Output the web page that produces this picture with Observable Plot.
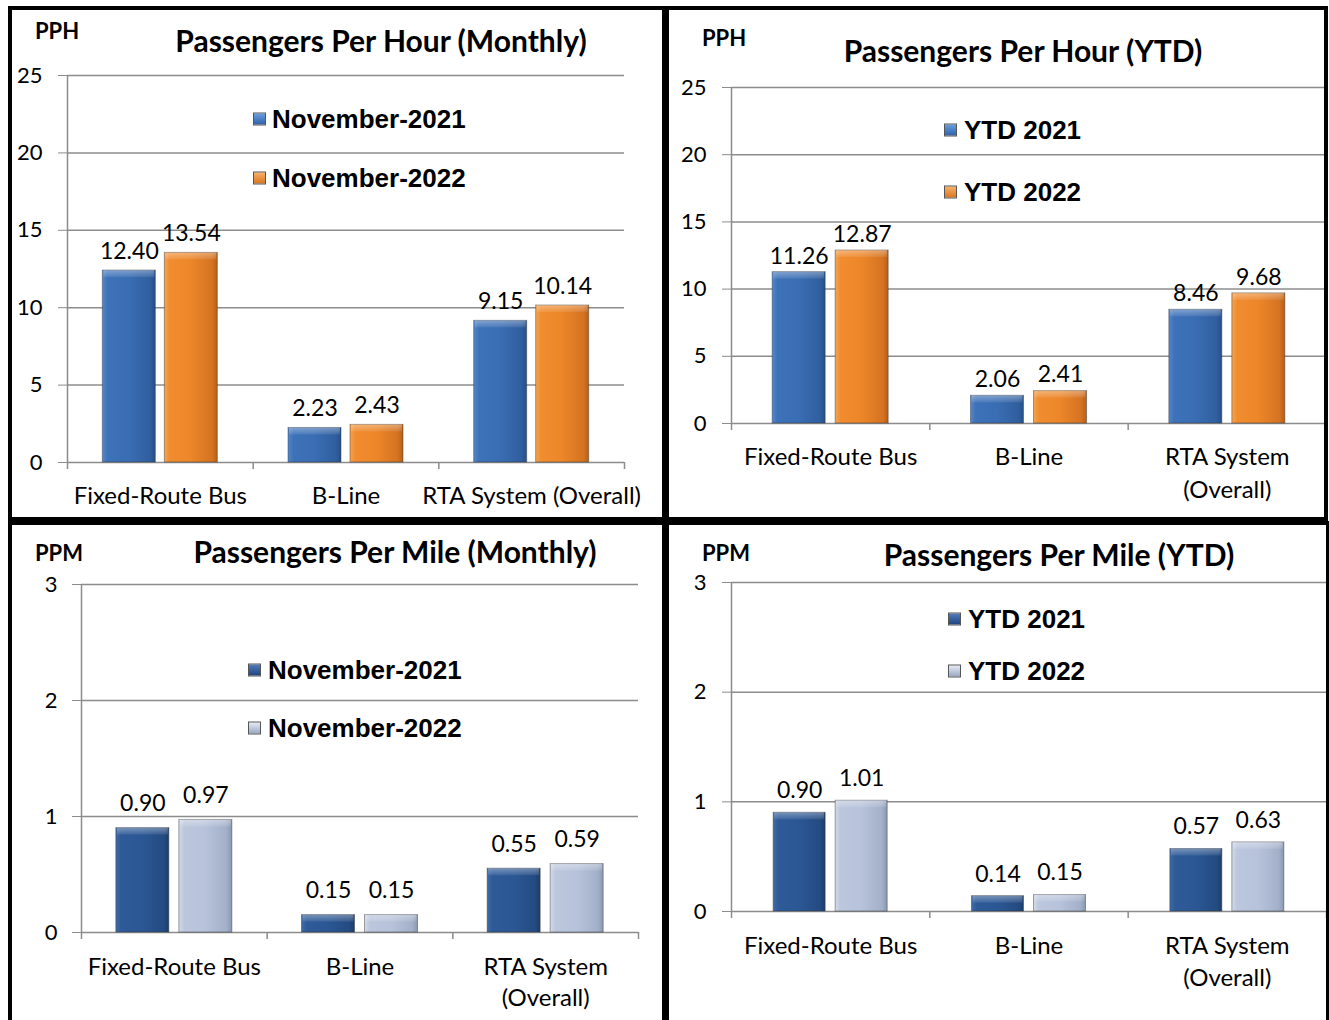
<!DOCTYPE html>
<html><head><meta charset="utf-8">
<script src="https://cdn.jsdelivr.net/npm/d3@7"></script>
<script src="https://cdn.jsdelivr.net/npm/@observablehq/plot@0.6"></script>
<style>
html,body{margin:0;padding:0;background:#fff;}
body{width:1329px;height:1020px;position:relative;overflow:hidden;font-family:Lato,sans-serif;}
.panel{position:absolute;border:4px solid #000;box-sizing:border-box;z-index:5;pointer-events:none;}
.chart{position:absolute;}
.chart svg{overflow:visible;max-width:none;}
.lbl{position:absolute;white-space:nowrap;line-height:1;transform:translateY(-50%);color:#000;}
.ctr{transform:translate(-50%,-50%);}
.unit{font-family:Lato;font-weight:700;font-size:22px;}
.title{font-family:Lato;font-weight:700;font-size:30px;}
.leg{font-family:"Liberation Sans",Arial,sans-serif;font-weight:700;font-size:26px;}
.sw{position:absolute;width:13px;height:13px;transform:translateY(-50%);box-sizing:border-box;border:1px solid #555;}
g[aria-label="y-axis tick"]{stroke:#8c8c8c;}
</style>
</head>
<body>
<svg width="0" height="0" style="position:absolute">
  <defs>
    <linearGradient id="gBlue" x1="0" x2="1" y1="0" y2="0">
      <stop offset="0" stop-color="#5487cc"/><stop offset="0.1" stop-color="#3d72b9"/>
      <stop offset="0.5" stop-color="#3a6db3"/><stop offset="0.9" stop-color="#305f9f"/>
      <stop offset="1" stop-color="#264f88"/>
    </linearGradient>
    <linearGradient id="gOrange" x1="0" x2="1" y1="0" y2="0">
      <stop offset="0" stop-color="#f6a450"/><stop offset="0.1" stop-color="#f08d30"/>
      <stop offset="0.5" stop-color="#ec8629"/><stop offset="0.9" stop-color="#d57322"/>
      <stop offset="1" stop-color="#b65f18"/>
    </linearGradient>
    <linearGradient id="gNavy" x1="0" x2="1" y1="0" y2="0">
      <stop offset="0" stop-color="#3f6aa6"/><stop offset="0.1" stop-color="#2e5a98"/>
      <stop offset="0.5" stop-color="#2b5794"/><stop offset="0.9" stop-color="#244b82"/>
      <stop offset="1" stop-color="#1c3d6c"/>
    </linearGradient>
    <linearGradient id="gLight" x1="0" x2="1" y1="0" y2="0">
      <stop offset="0" stop-color="#d3dbea"/><stop offset="0.1" stop-color="#bcc7dd"/>
      <stop offset="0.5" stop-color="#b7c3db"/><stop offset="0.9" stop-color="#a3b0c9"/>
      <stop offset="1" stop-color="#8a97b2"/>
    </linearGradient>
    <linearGradient id="gBevel" x1="0" x2="0" y1="0" y2="1">
      <stop offset="0" stop-color="#ffffff" stop-opacity="0.35"/>
      <stop offset="1" stop-color="#ffffff" stop-opacity="0.08"/>
    </linearGradient>
  </defs>
</svg>
<script>
// ---------- data ----------
const categories = ["Fixed-Route Bus", "B-Line", "RTA System (Overall)"];
const categoryLabelsOneLine = ["Fixed-Route Bus", "B-Line", "RTA System (Overall)"];
const categoryLabelsTwoLine = ["Fixed-Route Bus", "B-Line", "RTA System\n(Overall)"];

const monthlySeries = ["November-2021", "November-2022"];
const ytdSeries = ["YTD 2021", "YTD 2022"];

const pphMonthly2021 = [12.40, 2.23, 9.15];
const pphMonthly2022 = [13.54, 2.43, 10.14];
const pphYtd2021 = [11.26, 2.06, 8.46];
const pphYtd2022 = [12.87, 2.41, 9.68];
const ppmMonthly2021 = [0.90, 0.15, 0.55];
const ppmMonthly2022 = [0.97, 0.15, 0.59];
const ppmYtd2021 = [0.90, 0.14, 0.57];
const ppmYtd2022 = [1.01, 0.15, 0.63];

const pphTicks = [0, 5, 10, 15, 20, 25];
const ppmTicks = [0, 1, 2, 3];

const titles = ["Passengers Per Hour (Monthly)", "Passengers Per Hour (YTD)", "Passengers Per Mile (Monthly)", "Passengers Per Mile (YTD)"];
const units = ["PPH", "PPH", "PPM", "PPM"];

// ---------- helpers ----------
function addDiv(cls, text, x, y, extra) {
  const d = document.createElement("div");
  d.className = cls;
  d.textContent = text;
  d.style.left = x + "px";
  d.style.top = y + "px";
  if (extra) Object.assign(d.style, extra);
  document.body.appendChild(d);
  return d;
}
function panel(l, t, w, h) {
  const d = document.createElement("div");
  d.className = "panel";
  Object.assign(d.style, {left: l + "px", top: t + "px", width: w + "px", height: h + "px"});
  document.body.appendChild(d);
}
function swatch(x, y, grad) {
  const d = document.createElement("div");
  d.className = "sw";
  Object.assign(d.style, {left: x + "px", top: y + "px", background: grad});
  document.body.appendChild(d);
}

function chart(o) {
  const rows = categories.map((c, i) => ({cat: c, label: o.labels[i], v1: o.s1[i], v2: o.s2[i]}));
  const band = (o.width - o.mL - o.mR) / 3;
  const pad = (band - 2 * o.barW - o.gap) / 2;
  const in1 = {insetLeft: pad, insetRight: band - pad - o.barW};
  const in2 = {insetLeft: pad + o.barW + o.gap, insetRight: pad};
  const c1 = pad + o.barW / 2 - band / 2;
  const c2 = pad + o.barW + o.gap + o.barW / 2 - band / 2;
  const gridC = "#8c8c8c";
  const yMax = o.ticks[o.ticks.length - 1];
  const p = Plot.plot({
    width: o.width, height: o.height,
    marginLeft: o.mL, marginRight: o.mR, marginTop: o.mT, marginBottom: o.mB,
    style: {fontFamily: "Lato", fontSize: "22px", background: "transparent", overflow: "visible", color: "#000"},
    x: {domain: categories, padding: 0, round: false, axis: null},
    y: {domain: [0, yMax], ticks: o.ticks, tickSize: 9, tickPadding: o.tickPad, label: null, tickFormat: d => String(d)},
    marks: [
      Plot.ruleY(o.ticks, {y: d => d, stroke: gridC, strokeWidth: 1.5}),
      Plot.ruleX([categories[0]], {x: d => d, dx: -band / 2, y1: 0, y2: yMax, stroke: gridC, strokeWidth: 1.5}),
      Plot.ruleX(categories, {x: d => d, dx: -band / 2, y1: 0, y2: 0, insetBottom: -7, stroke: gridC, strokeWidth: 1.5}),
      Plot.ruleX([categories[categories.length - 1]], {x: d => d, dx: band / 2, y1: 0, y2: 0, insetBottom: -7, stroke: gridC, strokeWidth: 1.5}),
      Plot.barY(rows, {x: "cat", y: "v1", ...in1, fill: o.fills[0], stroke: "#333", strokeOpacity: 0.45, strokeWidth: 1}),
      Plot.barY(rows, {x: "cat", y1: "v1", y2: "v1", insetBottom: -7, insetLeft: in1.insetLeft + 1, insetRight: in1.insetRight + 1, fill: "url(#gBevel)"}),
      Plot.barY(rows, {x: "cat", y: "v2", ...in2, fill: o.fills[1], stroke: "#333", strokeOpacity: 0.45, strokeWidth: 1}),
      Plot.barY(rows, {x: "cat", y1: "v2", y2: "v2", insetBottom: -7, insetLeft: in2.insetLeft + 1, insetRight: in2.insetRight + 1, fill: "url(#gBevel)"}),
      Plot.text(rows, {x: "cat", y: "v1", text: d => d.v1.toFixed(2), dx: c1, dy: o.dyLabel, fontSize: 23}),
      Plot.text(rows, {x: "cat", y: "v2", text: d => d.v2.toFixed(2), dx: c2, dy: o.dyLabel, fontSize: 23}),
      Plot.text(rows, {x: "cat", frameAnchor: "bottom", text: "label", lineAnchor: "top", dy: o.catDy, lineHeight: o.lineHeight, fontSize: 24})
    ]
  });
  const wrap = document.createElement("div");
  wrap.className = "chart";
  wrap.style.left = o.left + "px";
  wrap.style.top = o.top + "px";
  wrap.appendChild(p);
  document.body.appendChild(wrap);
}

const blueSw = "linear-gradient(#6a9ee0, #2f62a8)";
const orangeSw = "linear-gradient(#f8b26a, #d9751f)";
const navySw = "linear-gradient(#4f7cbd, #1f4580)";
const lightSw = "linear-gradient(#e6ebf4, #9aa8c4)";

// Panel 1 : PPH monthly
chart({left: 12, top: 10, width: 650, height: 507, mL: 55, mR: 38, mT: 65, mB: 55,
  ticks: pphTicks, tickPad: 16, s1: pphMonthly2021, s2: pphMonthly2022, labels: categoryLabelsOneLine,
  fills: ["url(#gBlue)", "url(#gOrange)"], barW: 53, gap: 9, dyLabel: -19, catDy: 18, lineHeight: 1.4});
// Panel 2 : PPH YTD
chart({left: 669, top: 10, width: 657, height: 507, mL: 62, mR: 0, mT: 77, mB: 94,
  ticks: pphTicks, tickPad: 16, s1: pphYtd2021, s2: pphYtd2022, labels: categoryLabelsTwoLine,
  fills: ["url(#gBlue)", "url(#gOrange)"], barW: 53, gap: 10, dyLabel: -16, catDy: 18, lineHeight: 1.38});
// Panel 3 : PPM monthly
chart({left: 12, top: 525, width: 650, height: 495, mL: 69, mR: 24, mT: 59, mB: 88,
  ticks: ppmTicks, tickPad: 15, s1: ppmMonthly2021, s2: ppmMonthly2022, labels: categoryLabelsTwoLine,
  fills: ["url(#gNavy)", "url(#gLight)"], barW: 53, gap: 10, dyLabel: -24, catDy: 20, lineHeight: 1.3});
// Panel 4 : PPM YTD
chart({left: 669, top: 525, width: 657, height: 495, mL: 62, mR: 0, mT: 57, mB: 109,
  ticks: ppmTicks, tickPad: 16, s1: ppmYtd2021, s2: ppmYtd2022, labels: categoryLabelsTwoLine,
  fills: ["url(#gNavy)", "url(#gLight)"], barW: 52, gap: 10, dyLabel: -22, catDy: 19, lineHeight: 1.35});

// titles & unit labels
addDiv("lbl unit", units[0], 35, 31);
addDiv("lbl unit", units[1], 702, 38);
addDiv("lbl unit", units[2], 35, 553);
addDiv("lbl unit", units[3], 702, 553);
addDiv("lbl title ctr", titles[0], 381, 40);
addDiv("lbl title ctr", titles[1], 1023, 50);
addDiv("lbl title ctr", titles[2], 395, 551);
addDiv("lbl title ctr", titles[3], 1059, 554);

// legends
swatch(253, 119, blueSw); addDiv("lbl leg", monthlySeries[0], 272, 119);
swatch(253, 178, orangeSw); addDiv("lbl leg", monthlySeries[1], 272, 178);
swatch(944, 130, blueSw); addDiv("lbl leg", ytdSeries[0], 964, 130);
swatch(944, 192, orangeSw); addDiv("lbl leg", ytdSeries[1], 964, 192);
swatch(248, 670, navySw); addDiv("lbl leg", monthlySeries[0], 268, 670);
swatch(248, 728, lightSw); addDiv("lbl leg", monthlySeries[1], 268, 728);
swatch(948, 619, navySw); addDiv("lbl leg", ytdSeries[0], 968, 619);
swatch(948, 671, lightSw); addDiv("lbl leg", ytdSeries[1], 968, 671);

// panel frames
panel(8, 6, 658, 515);
panel(665, 6, 663, 515);
panel(8, 521, 658, 520);
panel(665, 521, 665, 520);
</script>
</body></html>
